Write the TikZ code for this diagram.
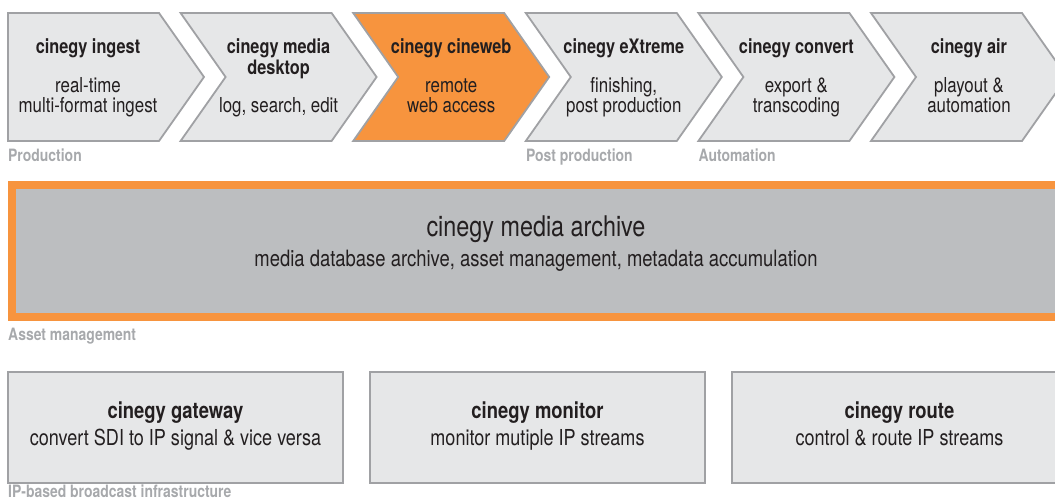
\documentclass[tikz,border=0pt]{standalone}
\usepackage{fontspec}
\setmainfont{TeX Gyre Heros}[FakeStretch=0.82]
\usepackage{tikz}
\definecolor{panel}{RGB}{230,231,232}
\definecolor{rim}{RGB}{160,161,164}
\definecolor{cineorange}{RGB}{247,148,62}
\definecolor{archivegray}{RGB}{188,190,192}
\definecolor{caption}{RGB}{167,169,172}
\definecolor{ink}{RGB}{35,31,32}
\newcommand{\drawrim}{\draw[rim,line width=1.8pt,line join=miter]}
\newcommand{\chevron}[2]{\drawrim[fill=#2] (#1,13)--++(151,0)--++(45,64)--++(-45,64)--++(-151,0)--++(45,-64)--cycle;}
\newcommand{\chevrontext}[4]{
    \node[chevtitle] (#1-title) at (#2,38) {\strut #3};
    \node[chevtext] (#1-text) at (#2,119) {#4\strut};
}
\newcommand{\infobox}[4]{
    \drawrim[fill=panel] (#2,372) rectangle ++(335,111);
    \node[boxtitle] (#1-title) at ({#2+167.5},418) {#3};
    \node[boxtext] (#1-text) at ({#2+167.5},446) {#4};
}
\tikzset{
    chevtitle/.style={anchor=north,inner sep=0pt,align=center,text=ink,font=\fontsize{19.9}{20.5}\selectfont\bfseries},
    chevtext/.style={anchor=south,inner sep=0pt,align=center,text=ink,font=\fontsize{20.6}{20.5}\selectfont},
    boxtitle/.style={anchor=base,inner sep=0pt,text=ink,font=\fontsize{22.5}{26}\selectfont\bfseries},
    boxtext/.style={anchor=base,inner sep=0pt,text=ink,font=\fontsize{22}{26}\selectfont},
    caplabel/.style={anchor=base west,inner sep=0pt,text=caption,font=\fontsize{17}{20}\selectfont\bfseries},
}

\begin{document}
\begin{tikzpicture}[x=1pt,y=-1pt]
\useasboundingbox (0,0) rectangle (1055,502);
\clip (0,0) rectangle (1055,502);
% workflow row
\drawrim[fill=panel] (8,13)--++(151,0)--++(45,64)--++(-45,64)--++(-151,0)--cycle;
\chevron{180.6}{panel}
\chevron{353.2}{cineorange}
\chevron{525.8}{panel}
\chevron{698.4}{panel}
\chevron{871}{panel}
\chevrontext{ingest}{88}{cinegy ingest}{real-time\\multi-format ingest}
\chevrontext{desktop}{278.6}{cinegy media\\desktop}{log, search, edit}
\chevrontext{cineweb}{451.2}{cinegy cineweb}{remote\\web access}
\chevrontext{extreme}{623.8}{cinegy eXtreme}{finishing,\\post production}
\chevrontext{convert}{796.4}{cinegy convert}{export \&\\transcoding}
\chevrontext{air}{969}{cinegy air}{playout \&\\automation}
\node[caplabel] (production) at (8,161.5) {Production};
\node[caplabel] (postproduction) at (525.8,161.5) {Post production};
\node[caplabel] (automation) at (698.4,161.5) {Automation};
% archive
\draw[cineorange,line width=8pt,fill=archivegray] (12,185) rectangle (1060,317);
\node[anchor=base,inner sep=0pt,text=ink,font=\fontsize{28.5}{32}\selectfont] (archive-title) at (536,237) {cinegy media archive};
\node[anchor=base,inner sep=0pt,text=ink,font=\fontsize{22.5}{26}\selectfont] (archive-text) at (536,267) {media database archive, asset management, metadata accumulation};
\node[caplabel] (assetmanagement) at (8,341) {Asset management};
% IP infrastructure
\infobox{gateway}{8}{cinegy gateway}{convert SDI to IP signal \& vice versa}
\infobox{monitor}{370}{cinegy monitor}{monitor mutiple IP streams}
\infobox{route}{732}{cinegy route}{control \& route IP streams}
\node[caplabel] (ipbased) at (8,497) {IP-based broadcast infrastructure};
\end{tikzpicture}
\end{document}
